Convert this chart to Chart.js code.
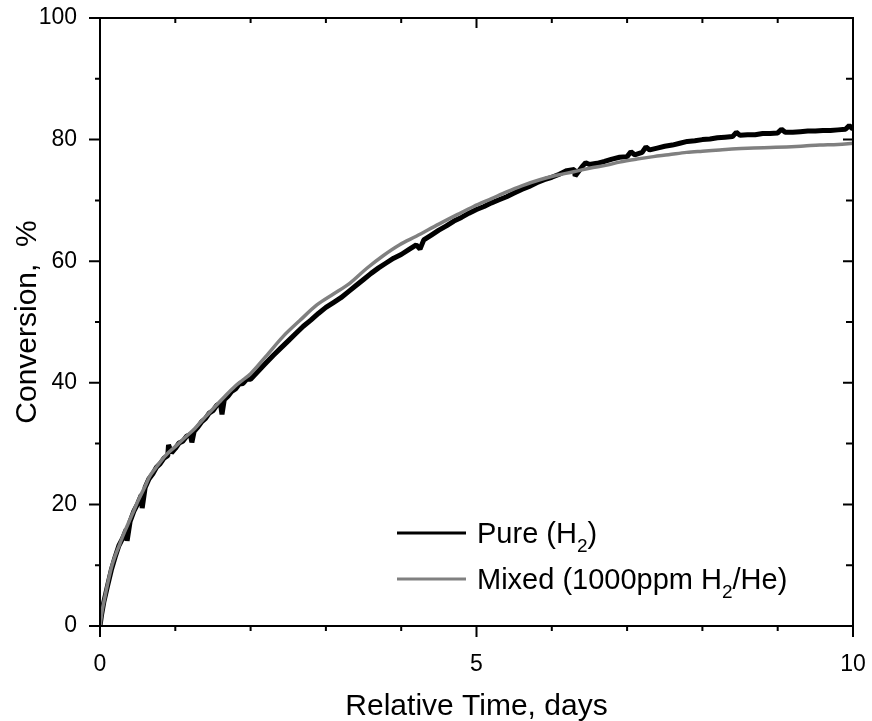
<!DOCTYPE html>
<html><head><meta charset="utf-8">
<script src="https://cdn.jsdelivr.net/npm/chart.js@4.4.1/dist/chart.umd.min.js"></script>
<style>html,body{margin:0;padding:0;background:#fff;}#wrap{width:872px;height:721px;}</style>
</head><body><div id="wrap"><canvas id="c" width="872" height="721"></canvas></div>
<script>
// ---- data ----
const seriesLabels = ['Pure (H₂)', 'Mixed (1000ppm H₂/He)'];
const seriesColors = ['#000000', '#808080'];
const xTitle = 'Relative Time, days';
const yTitle = 'Conversion,  %';

const pureTime = [0,0.02,0.05,0.1,0.15,0.2,0.25,0.3,0.35,0.36,0.4,0.45,0.5,0.55,0.56,0.6,0.65,0.7,0.75,0.8,0.85,0.9,0.91,0.95,
  1.0,1.05,1.1,1.15,1.2,1.22,1.25,1.3,1.35,1.4,1.45,1.5,1.55,1.6,1.62,1.65,1.7,1.75,1.8,1.85,1.9,1.95,
  2.0,2.1,2.2,2.3,2.4,2.5,2.6,2.7,2.8,2.9,3.0,3.1,3.2,3.3,3.4,3.5,3.6,3.7,3.8,3.9,
  4.0,4.1,4.2,4.25,4.3,4.4,4.5,4.6,4.7,4.8,4.9,5.0,5.1,5.2,5.3,5.4,5.5,5.6,5.7,5.8,5.9,
  6.0,6.1,6.2,6.3,6.31,6.4,6.45,6.5,6.6,6.7,6.8,6.9,7.0,7.05,7.1,7.2,7.25,7.3,7.4,7.5,7.6,7.7,7.8,7.9,
  8.0,8.1,8.2,8.3,8.4,8.45,8.5,8.6,8.7,8.8,8.9,9.0,9.05,9.1,9.2,9.3,9.4,9.5,9.6,9.7,9.8,9.9,9.95,10.0];
const pureConv = [0,1.8,3.9,6.6,9.2,11.3,13.2,14.4,15.9,14.0,17.2,18.9,20.1,21.6,19.4,22.8,24.2,25.0,26.1,26.7,27.6,28.0,29.8,28.5,
  29.2,30.1,30.4,31.2,31.5,30.2,32.0,32.7,33.6,34.1,35.0,35.4,36.3,36.6,34.8,37.2,37.8,38.6,39.0,39.8,39.9,40.6,
  40.6,41.9,43.2,44.5,45.7,46.9,48.1,49.3,50.3,51.4,52.4,53.2,54.0,55.0,56.0,57.0,58.0,58.9,59.7,60.5,
  61.1,61.9,62.7,62.0,63.5,64.3,65.1,65.8,66.6,67.2,67.9,68.5,69.0,69.6,70.1,70.6,71.2,71.8,72.3,72.9,73.4,
  73.8,74.3,74.9,75.1,74.0,75.5,76.2,75.9,76.1,76.4,76.8,77.1,77.2,78.0,77.5,77.9,78.8,78.3,78.6,78.9,79.1,79.4,79.7,79.8,
  80.0,80.1,80.3,80.4,80.5,81.2,80.7,80.8,80.8,81.0,81.0,81.1,81.7,81.2,81.2,81.3,81.4,81.4,81.5,81.5,81.6,81.7,82.3,81.7];

const mixedTime = [0,0.03,0.066,0.1,0.155,0.2,0.266,0.3,0.376,0.45,0.51,0.6,0.66,0.74,0.82,0.9,1.0,1.13,1.26,1.4,1.53,1.66,1.79,1.9,
  2.0,2.2,2.43,2.65,2.88,3.1,3.32,3.54,3.76,3.98,4.2,4.5,4.75,4.96,5.2,5.4,5.6,5.84,6.05,6.29,6.5,6.73,6.9,
  7.13,7.35,7.55,7.79,8.0,8.23,8.45,8.68,8.9,9.12,9.35,9.56,9.8,10.0];
const mixedConv = [0,2.6,4.8,6.9,9.8,11.5,13.6,14.7,16.9,19.0,20.7,23.0,24.6,26.0,27.3,28.4,29.5,31.0,32.5,34.4,36.1,37.8,39.4,40.5,
  41.5,44.3,47.6,50.2,52.8,54.6,56.4,58.8,60.9,62.7,64.1,66.1,67.7,69.0,70.3,71.4,72.4,73.4,74.1,74.7,75.3,75.8,76.3,
  76.8,77.2,77.5,77.9,78.1,78.3,78.5,78.6,78.7,78.8,78.95,79.1,79.2,79.4];

const xMajorTicks = [0, 5, 10];
const xMinorTicks = [1, 2, 3, 4, 6, 7, 8, 9];
const yMajorTicks = [0, 20, 40, 60, 80, 100];
const yMinorTicks = [10, 30, 50, 70, 90];

const toPts = (xs, ys) => xs.map((x, i) => ({x, y: ys[i]}));

// ---- plugins ----
const framePlugin = {
  id: 'frame',
  afterDatasetsDraw(chart) {
    const {ctx, chartArea: a} = chart;
    const x = chart.scales.x, y = chart.scales.y;
    ctx.save();
    ctx.strokeStyle = '#000';
    ctx.lineWidth = 2;
    ctx.lineCap = 'square';
    ctx.strokeRect(a.left, a.top, a.right - a.left, a.bottom - a.top);
    ctx.lineCap = 'butt';
    ctx.beginPath();
    const vt = (v, len1, len2) => {
      const px = x.getPixelForValue(v);
      ctx.moveTo(px, a.bottom); ctx.lineTo(px, a.bottom + len1);
      ctx.moveTo(px, a.top); ctx.lineTo(px, a.top + len2);
    };
    const ht = (v, len1, len2) => {
      const py = y.getPixelForValue(v);
      ctx.moveTo(a.left, py); ctx.lineTo(a.left - len1, py);
      ctx.moveTo(a.right, py); ctx.lineTo(a.right - len2, py);
    };
    xMajorTicks.forEach(v => vt(v, 11, 10));
    xMinorTicks.forEach(v => vt(v, 5, 5));
    yMajorTicks.forEach(v => ht(v, 11, 10));
    yMinorTicks.forEach(v => ht(v, 5, 7));
    ctx.stroke();
    ctx.restore();
  },
  afterDraw(chart) {
    const {ctx} = chart;
    ctx.save();
    const rows = [533, 579];
    chart.data.datasets.forEach((ds, i) => {
      const yy = rows[i];
      ctx.strokeStyle = ds.borderColor;
      ctx.lineWidth = 3;
      ctx.beginPath(); ctx.moveTo(397, yy); ctx.lineTo(466, yy); ctx.stroke();
      let xx = 477;
      const baseFont = '29px "Liberation Sans", Arial, sans-serif';
      const subFont = '19px "Liberation Sans", Arial, sans-serif';
      ctx.fillStyle = '#000';
      ctx.textBaseline = 'alphabetic';
      ctx.textAlign = 'left';
      const base = yy + 10;
      for (const ch of ds.label) {
        if (ch === '₂') {
          ctx.font = subFont;
          ctx.fillText('2', xx, base + 9);
          xx += ctx.measureText('2').width;
        } else {
          ctx.font = baseFont;
          ctx.fillText(ch, xx, base);
          xx += ctx.measureText(ch).width;
        }
      }
    });
    ctx.restore();
  }
};

new Chart(document.getElementById('c'), {
  type: 'line',
  data: {
    datasets: [
      {label: seriesLabels[0], data: toPts(pureTime, pureConv), borderColor: seriesColors[0], borderWidth: 5,
       pointRadius: 0, tension: 0, borderJoinStyle: 'bevel', order: 2},
      {label: seriesLabels[1], data: toPts(mixedTime, mixedConv), borderColor: seriesColors[1], borderWidth: 3.5,
       pointRadius: 0, tension: 0.3, cubicInterpolationMode: 'monotone', order: 1}
    ]
  },
  options: {
    responsive: false,
    animation: false,
    devicePixelRatio: 1,
    layout: {padding: {top: 18, right: 19, left: 0, bottom: 0}},
    plugins: {legend: {display: false}, tooltip: {enabled: false}},
    scales: {
      x: {
        type: 'linear', min: 0, max: 10,
        ticks: {stepSize: 5, color: '#000', font: {family: '"Liberation Sans", Arial, sans-serif', size: 23}, padding: 25, maxRotation: 0},
        grid: {display: false, drawTicks: false},
        border: {display: false},
        title: {display: true, text: xTitle, color: '#000', font: {family: '"Liberation Sans", Arial, sans-serif', size: 30, lineHeight: 0.95}, padding: {top: 0, bottom: 0}},
        afterFit(s) { s.height = 95; s.paddingLeft = 0; s.paddingRight = 0; s.paddingTop = 0; s.paddingBottom = 0; }
      },
      y: {
        type: 'linear', min: 0, max: 100,
        ticks: {stepSize: 20, color: '#000', font: {family: '"Liberation Sans", Arial, sans-serif', size: 23}, padding: 23},
        grid: {display: false, drawTicks: false},
        border: {display: false},
        title: {display: true, text: yTitle, color: '#000', font: {family: '"Liberation Sans", Arial, sans-serif', size: 30}, padding: {top: 10, bottom: 0}},
        afterFit(s) { s.width = 100; s.paddingLeft = 0; s.paddingRight = 0; s.paddingTop = 0; s.paddingBottom = 0; }
      }
    }
  },
  plugins: [framePlugin]
});
</script>
</body></html>
